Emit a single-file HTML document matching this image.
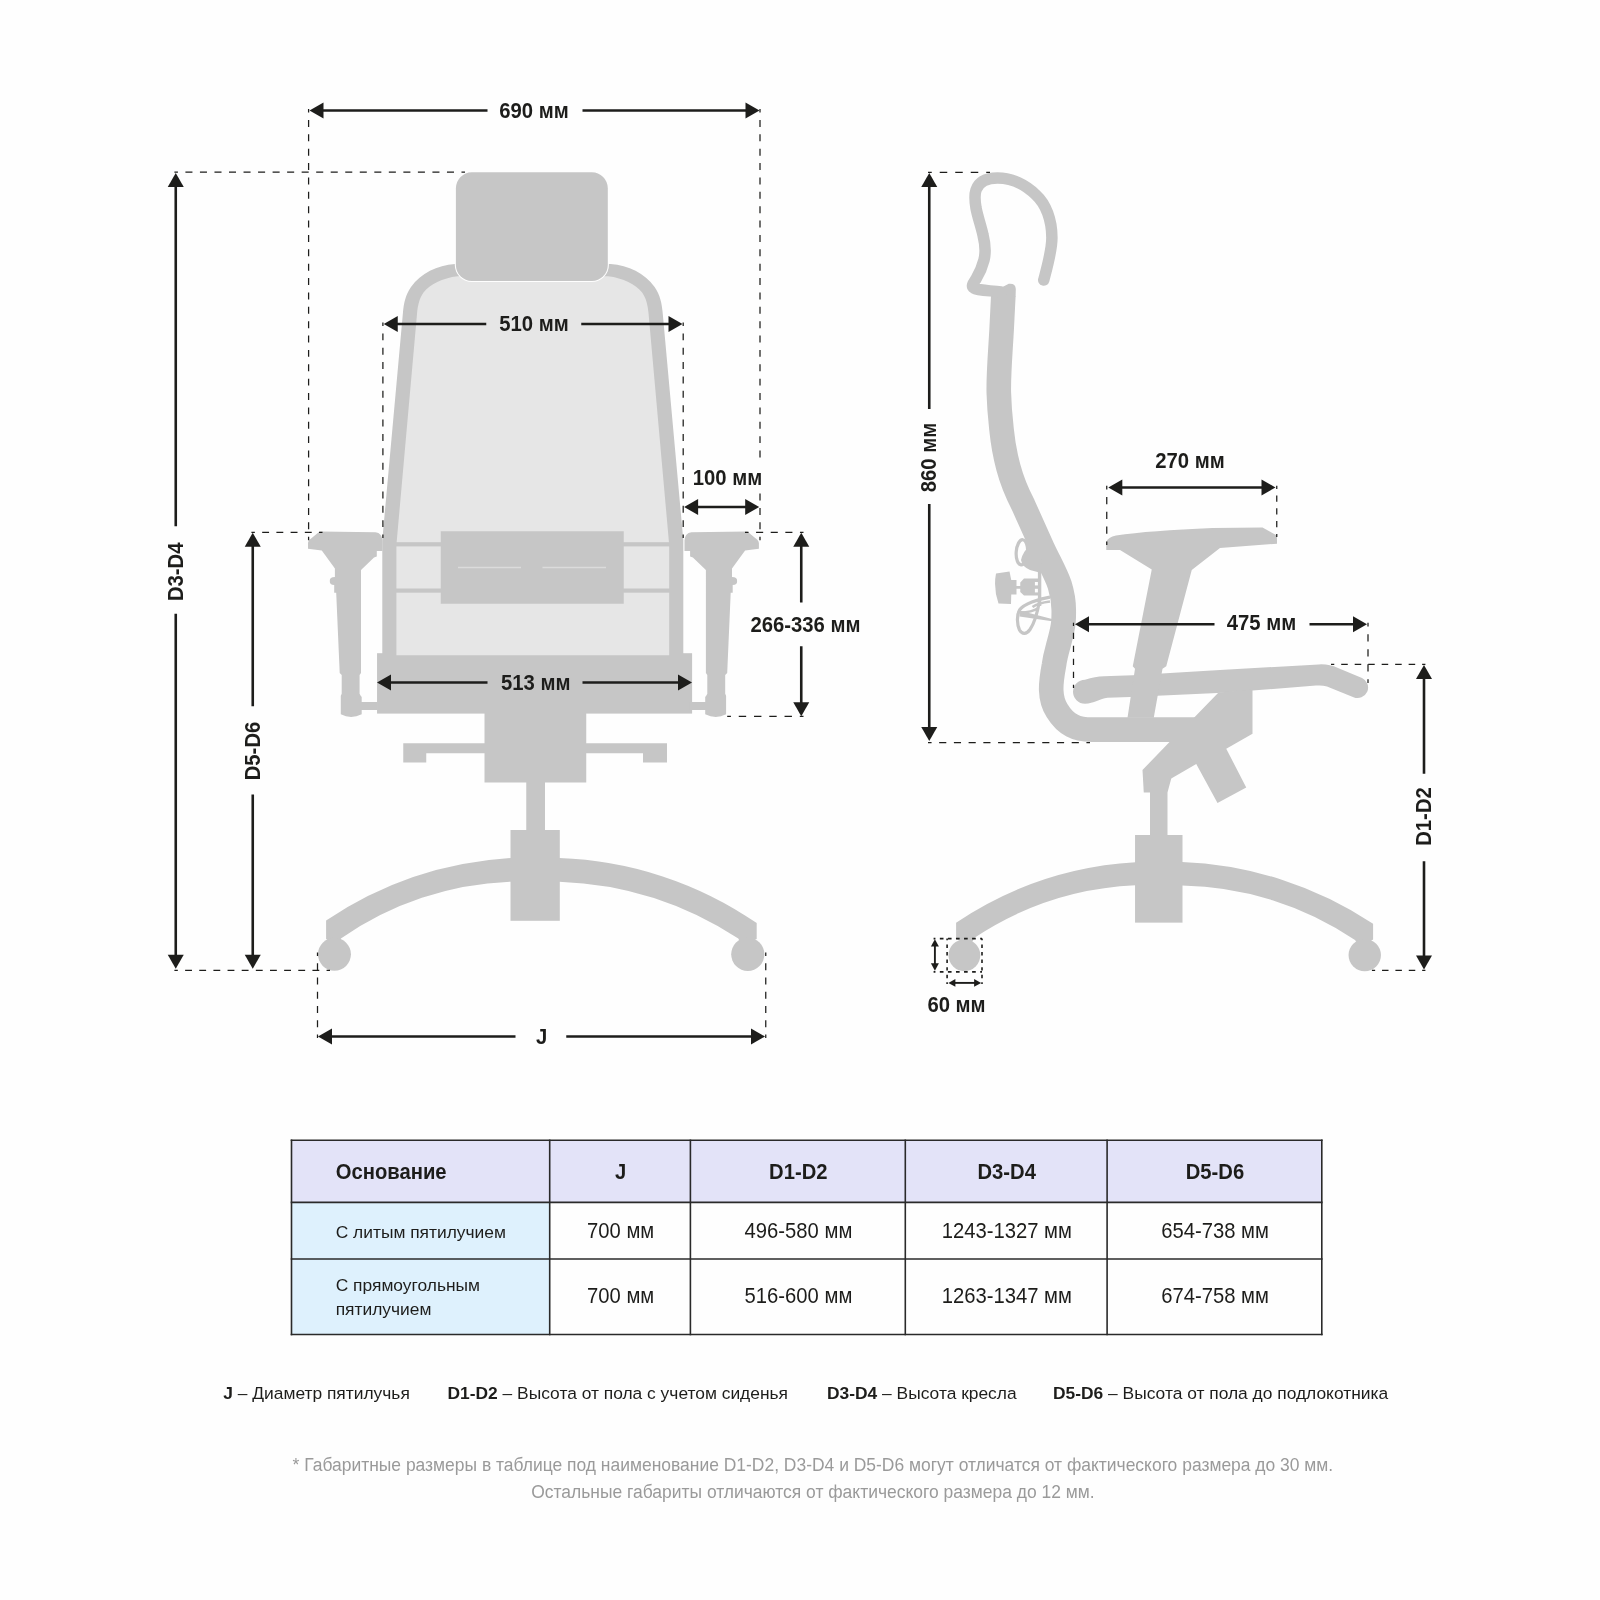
<!DOCTYPE html>
<html lang="ru"><head><meta charset="utf-8"><title>Габаритные размеры</title>
<style>
html,body{margin:0;padding:0;background:#fefefe;}
body{width:1600px;height:1600px;overflow:hidden;font-family:"Liberation Sans",sans-serif;}
svg{display:block;will-change:transform;}
svg text{font-family:"Liberation Sans",sans-serif;}
</style></head><body>
<svg width="1600" height="1600" viewBox="0 0 1600 1600">
<rect width="1600" height="1600" fill="#fefefe"/>
<g id="front">
<rect x="377.05" y="653.2" width="315.05" height="60.4" fill="#c6c6c6"/>
<path d="M455 264 C437 265.5 421 273 411 287 C405.5 295 403.8 303 403 312 L382.3 540 L382.3 654 L683.3 654 L683.3 540 L662.6 312 C661.8 303 660.1 295 654.6 287 C644.6 273 628.6 265.5 610.6 264 Z" fill="#c6c6c6"/>
<path d="M457.5 276.25 C442.5 278 430 284.5 423.5 292.5 C419.5 298 417.8 305 417 314 L396.4 545 L396.4 655.2 L669.2 655.2 L669.2 545 L648.6 314 C647.8 305 646.1 298 642.1 292.5 C635.6 284.5 623.1 278 608.1 276.25 Z" fill="#e6e6e6"/>
<rect x="390" y="542.2" width="286" height="4.2" fill="#c6c6c6"/>
<rect x="390" y="588.5" width="286" height="4.2" fill="#c6c6c6"/>
<rect x="440.75" y="531.25" width="183" height="72.5" fill="#c6c6c6"/>
<line x1="458" y1="567.5" x2="521" y2="567.5" stroke="#dbdbdb" stroke-width="1.6"/>
<line x1="542.5" y1="567.5" x2="606" y2="567.5" stroke="#dbdbdb" stroke-width="1.6"/>
<rect x="454.8" y="171.2" width="154.1" height="110.9" rx="17.1" ry="17.1" fill="#fefefe"/>
<rect x="455.9" y="172.3" width="151.9" height="108.7" rx="16" ry="16" fill="#c6c6c6"/>
<rect x="484.5" y="713" width="101.75" height="69.5" fill="#c6c6c6"/>
<path d="M403.25 743.25 H667 V762.5 H643 V753.25 H426.25 V762.5 H403.25 Z" fill="#c6c6c6"/>
<rect x="526.25" y="782" width="18.75" height="49" fill="#c6c6c6"/>
<rect x="510.5" y="830" width="49.3" height="90.8" fill="#c6c6c6"/>
<path d="M326.1 939 L326.1 920.5 A372.3 372.3 0 0 1 511 858 L514 858 L514 881.7 L511 881.7 A316.9 316.9 0 0 0 340.9 938.5 L338 946 Z" fill="#c6c6c6"/>
<path d="M756.7 939 L756.7 923.1 A369.7 369.7 0 0 0 559.3 858 L556 858 L556 881.7 L559.3 881.7 A350 350 0 0 1 738.3 938.5 L742 946 Z" fill="#c6c6c6"/>
<circle cx="334.45" cy="954.3" r="16.5" fill="#c6c6c6"/>
<circle cx="747.8" cy="954.3" r="16.6" fill="#c6c6c6"/>
<path d="M319.6 531.6 L375.5 532.3 Q382 533 382.4 540.5 L382.4 551 L376.8 551 L376.8 556.5 L374 557.6 L361 570 L361 673 L359.6 675.1 L359.6 693.7 L360.7 695.8 L361.7 697 L361.7 702 L377.5 702 L377.5 709.9 L361.7 709.9 L361.7 714.3 Q351 719.5 340.8 714.3 L340.8 695.8 L341.7 693.7 L341.7 675.1 L339.7 673 L336.2 592.7 L334.2 592.7 L334.2 585 Q329.5 585 329.8 581 Q329.5 577 334.9 577 L334.9 568.6 L321.8 550.5 L308 548.7 L308 543 Q308.2 541 309.6 539.8 Z" fill="#c6c6c6"/>
<path d="M319.6 531.6 L375.5 532.3 Q382 533 382.4 540.5 L382.4 551 L376.8 551 L376.8 556.5 L374 557.6 L361 570 L361 673 L359.6 675.1 L359.6 693.7 L360.7 695.8 L361.7 697 L361.7 702 L377.5 702 L377.5 709.9 L361.7 709.9 L361.7 714.3 Q351 719.5 340.8 714.3 L340.8 695.8 L341.7 693.7 L341.7 675.1 L339.7 673 L336.2 592.7 L334.2 592.7 L334.2 585 Q329.5 585 329.8 581 Q329.5 577 334.9 577 L334.9 568.6 L321.8 550.5 L308 548.7 L308 543 Q308.2 541 309.6 539.8 Z" fill="#c6c6c6" transform="translate(1066.9 0) scale(-1 1)"/>
</g>
<g id="dims-front">
<line x1="322.5" y1="110.5" x2="487.5" y2="110.5" stroke="#1d1d1b" stroke-width="2.6"/>
<line x1="582.5" y1="110.5" x2="746.5" y2="110.5" stroke="#1d1d1b" stroke-width="2.6"/>
<polygon points="309.5,110.5 323.5,102.5 323.5,118.5" fill="#1d1d1b"/>
<polygon points="759.5,110.5 745.5,102.5 745.5,118.5" fill="#1d1d1b"/>
<text transform="translate(534 117.8) scale(1 1.055)" font-size="20.3" font-weight="bold" text-anchor="middle" fill="#1d1d1b">690 мм</text>
<line x1="308.6" y1="109.1" x2="308.6" y2="540.2" stroke="#1d1d1b" stroke-width="1.25" stroke-dasharray="6.961 7.409" stroke-dashoffset="3.481"/>
<line x1="760" y1="109.1" x2="760" y2="540.2" stroke="#1d1d1b" stroke-width="1.25" stroke-dasharray="6.961 7.409" stroke-dashoffset="3.481"/>
<line x1="396.75" y1="324" x2="486.25" y2="324" stroke="#1d1d1b" stroke-width="2.6"/>
<line x1="581.25" y1="324" x2="669.5" y2="324" stroke="#1d1d1b" stroke-width="2.6"/>
<polygon points="383.75,324 397.75,316 397.75,332" fill="#1d1d1b"/>
<polygon points="682.5,324 668.5,316 668.5,332" fill="#1d1d1b"/>
<text transform="translate(534 331.2) scale(1 1.055)" font-size="20.3" font-weight="bold" text-anchor="middle" fill="#1d1d1b">510 мм</text>
<line x1="382.9" y1="322.5" x2="382.9" y2="538" stroke="#1d1d1b" stroke-width="1.25" stroke-dasharray="6.960 7.407" stroke-dashoffset="3.480"/>
<line x1="683.2" y1="322.5" x2="683.2" y2="538" stroke="#1d1d1b" stroke-width="1.25" stroke-dasharray="6.960 7.407" stroke-dashoffset="3.480"/>
<line x1="697.1" y1="507" x2="746.2" y2="507" stroke="#1d1d1b" stroke-width="2.6"/>
<polygon points="684.1,507 698.1,499 698.1,515" fill="#1d1d1b"/>
<polygon points="759.2,507 745.2,499 745.2,515" fill="#1d1d1b"/>
<rect x="690" y="458.5" width="85" height="34.5" fill="#fefefe"/>
<text transform="translate(727.4 484.6) scale(1 1.055)" font-size="20.3" font-weight="bold" text-anchor="middle" fill="#1d1d1b">100 мм</text>
<line x1="801.25" y1="545.8" x2="801.25" y2="602.5" stroke="#1d1d1b" stroke-width="2.6"/>
<line x1="801.25" y1="646.25" x2="801.25" y2="703.25" stroke="#1d1d1b" stroke-width="2.6"/>
<polygon points="801.25,532.8 793.25,546.8 809.25,546.8" fill="#1d1d1b"/>
<polygon points="801.25,716.25 793.25,702.25 809.25,702.25" fill="#1d1d1b"/>
<text transform="translate(805.5 632) scale(1 1.055)" font-size="20.3" font-weight="bold" text-anchor="middle" fill="#1d1d1b">266-336 мм</text>
<line x1="803.5" y1="532.3" x2="745" y2="532.3" stroke="#1d1d1b" stroke-width="1.25" stroke-dasharray="7.085 7.540" stroke-dashoffset="3.542"/>
<line x1="803.5" y1="716.4" x2="727.2" y2="716.4" stroke="#1d1d1b" stroke-width="1.25" stroke-dasharray="7.392 7.868" stroke-dashoffset="3.696"/>
<line x1="390" y1="682.5" x2="487.5" y2="682.5" stroke="#1d1d1b" stroke-width="2.6"/>
<line x1="582.5" y1="682.5" x2="679" y2="682.5" stroke="#1d1d1b" stroke-width="2.6"/>
<polygon points="377,682.5 391,674.5 391,690.5" fill="#1d1d1b"/>
<polygon points="692,682.5 678,674.5 678,690.5" fill="#1d1d1b"/>
<text transform="translate(535.75 690) scale(1 1.055)" font-size="20.3" font-weight="bold" text-anchor="middle" fill="#1d1d1b">513 мм</text>
<line x1="175.75" y1="186" x2="175.75" y2="526.25" stroke="#1d1d1b" stroke-width="2.6"/>
<line x1="175.75" y1="613.75" x2="175.75" y2="955.75" stroke="#1d1d1b" stroke-width="2.6"/>
<polygon points="175.75,173 167.75,187 183.75,187" fill="#1d1d1b"/>
<polygon points="175.75,968.75 167.75,954.75 183.75,954.75" fill="#1d1d1b"/>
<text transform="translate(183 571.8) rotate(-90) scale(1 1.055)" font-size="20.3" font-weight="bold" text-anchor="middle" fill="#1d1d1b">D3-D4</text>
<line x1="174.4" y1="172.1" x2="465" y2="172.1" stroke="#1d1d1b" stroke-width="1.25" stroke-dasharray="7.039 7.491" stroke-dashoffset="3.519"/>
<line x1="174.4" y1="970.4" x2="330" y2="970.4" stroke="#1d1d1b" stroke-width="1.25" stroke-dasharray="6.852 7.293" stroke-dashoffset="3.426"/>
<line x1="252.75" y1="545.8" x2="252.75" y2="706.25" stroke="#1d1d1b" stroke-width="2.6"/>
<line x1="252.75" y1="794.5" x2="252.75" y2="955.75" stroke="#1d1d1b" stroke-width="2.6"/>
<polygon points="252.75,532.8 244.75,546.8 260.75,546.8" fill="#1d1d1b"/>
<polygon points="252.75,968.75 244.75,954.75 260.75,954.75" fill="#1d1d1b"/>
<text transform="translate(260 751) rotate(-90) scale(1 1.055)" font-size="20.3" font-weight="bold" text-anchor="middle" fill="#1d1d1b">D5-D6</text>
<line x1="251.4" y1="532.3" x2="322.5" y2="532.3" stroke="#1d1d1b" stroke-width="1.25" stroke-dasharray="6.889 7.331" stroke-dashoffset="3.444"/>
<line x1="331" y1="1036.5" x2="515.5" y2="1036.5" stroke="#1d1d1b" stroke-width="2.6"/>
<line x1="566.25" y1="1036.5" x2="752" y2="1036.5" stroke="#1d1d1b" stroke-width="2.6"/>
<polygon points="318,1036.5 332,1028.5 332,1044.5" fill="#1d1d1b"/>
<polygon points="765,1036.5 751,1028.5 751,1044.5" fill="#1d1d1b"/>
<text transform="translate(541.6 1043.5) scale(1 1.055)" font-size="20.3" font-weight="bold" text-anchor="middle" fill="#1d1d1b">J</text>
<line x1="317.5" y1="1038" x2="317.5" y2="952.5" stroke="#1d1d1b" stroke-width="1.25" stroke-dasharray="6.903 7.347" stroke-dashoffset="3.452"/>
<line x1="765.75" y1="1038" x2="765.75" y2="952.5" stroke="#1d1d1b" stroke-width="1.25" stroke-dasharray="6.903 7.347" stroke-dashoffset="3.452"/>
</g>
<g id="side">
<path d="M1003.3 296 L1001.6 330 C1000.2 355 998.4 375 998.8 392.5 C999.3 410 1000.5 420 1001.6 430 C1003 444 1005 455 1008.4 467.5 C1012 481 1016.5 492 1023.2 505 L1042.3 547.5 C1049 562 1056 574 1059.7 585 C1062.5 594 1063.7 602 1063.75 610 C1063.8 614 1063.8 618 1063.4 622.5 C1062.5 631 1060 639 1057.8 647.5 C1056 654 1054.8 659 1054 665 C1052.5 673 1051 681 1051.2 690 C1051.5 699 1053.5 705 1057 710.5 C1061 717 1066 722.5 1072 725.5 C1078 728.8 1084 729.6 1092 729.6 L1200 729.6" fill="none" stroke="#c6c6c6" stroke-width="24.6" stroke-linejoin="round"/>
<path d="M991.2 297 L992.3 289 L1002.5 287 L1008.75 283.75 Q1015.6 283 1015.8 289 L1015.6 297 Z" fill="#c6c6c6"/>
<path d="M1043.75 280 C1048 264 1052 250 1051.9 237.5 C1051.8 220 1046 204 1036 195 C1026 185 1012 178 997.5 178 C988 178 979 181 976 190 C974 196 975 202 976 208 C978 218 981 226 983 235 C985.5 245 986 252 984 260 C982 268 979 274 976 279 C973 283.5 971 286 974 288 C978 290.5 990 290.5 1001 292" fill="none" stroke="#c6c6c6" stroke-width="11.5" stroke-linecap="round" stroke-linejoin="round"/>
<path d="M1085 679.75 C1092 677.5 1098 676.5 1104 676.2 L1132.5 675.25 L1220 670 L1318.75 664.4 Q1329 663.8 1338 668 L1362 678 A10.5 10.5 0 0 1 1353.5 697.2 L1327 686.5 Q1322 685 1316 685.6 L1252.5 690.6 L1217.5 693 L1130 697 L1107.5 697.75 C1100 698.5 1094 703.5 1085 703.75 A12 12 0 0 1 1085 679.75 Z" fill="#c6c6c6"/>
<path d="M1116 535.5 Q1150 530.5 1212.5 528 L1262.5 527.5 L1277 535.5 L1277 543.75 L1220 548 L1191.75 570 L1166.25 666.25 L1162.5 668.75 L1153.75 717.75 L1127.5 717.75 L1135 668.75 L1132.75 666.25 L1151.75 569.5 L1120 550 L1106.25 550 L1106.25 542 Q1108 537 1116 535.5 Z" fill="#c6c6c6"/>
<path d="M1193.75 717.9 L1218.5 692.5 L1252.5 689.5 L1252.5 733.75 L1226.25 748.75 L1246.25 787.5 L1217.5 803 L1196.25 764 L1171.25 778.5 L1167.5 792.5 L1167.5 836 L1150 836 L1150 792.5 L1143.75 792.5 L1142.5 770 L1170 741.5 L1170 717.9 Z" fill="#c6c6c6"/>
<rect x="1135.05" y="835" width="47.45" height="87.65" fill="#c6c6c6"/>
<path d="M956.1 939 L956.1 922.65 A359.9 359.9 0 0 1 1135.5 862.3 L1139 862.3 L1139 885.3 L1135.5 885.3 A317.5 317.5 0 0 0 974.5 937.7 L970 946 Z" fill="#c6c6c6"/>
<path d="M1373.1 939.4 L1373.1 923.75 A370.8 370.8 0 0 0 1182 862 L1179 862 L1179 885.5 L1182 885.5 A318 318 0 0 1 1355 940 L1360 947 Z" fill="#c6c6c6"/>
<circle cx="964.4" cy="955.3" r="15.9" fill="#c6c6c6"/>
<circle cx="1364.75" cy="955.1" r="16.2" fill="#c6c6c6"/>
<path d="M996 573.5 L1009.5 571.5 L1011.25 580 L1016.5 580 L1016.5 586 L1020.25 586 L1020.25 582.5 L1024 578.6 L1038 578.6 L1038 595.5 L1024 595.5 L1020.25 592 L1020.25 588.75 L1016.5 588.75 L1016.5 594.4 L1011.25 594.4 L1011 604 L998.5 603.5 Q993.2 588 996 573.5 Z" fill="#c6c6c6"/>
<rect x="1034.9" y="582" width="3.2" height="3.4" fill="#fefefe"/><rect x="1034.9" y="588.8" width="3.2" height="3.6" fill="#fefefe"/>
<rect x="1037.9" y="566" width="3.4" height="40" fill="#c6c6c6"/>
<ellipse cx="1021.9" cy="552.3" rx="5.7" ry="12.6" fill="none" stroke="#c6c6c6" stroke-width="3.2" transform="rotate(4 1021.9 552.3)"/>
<path d="M1030 545.5 Q1022.5 552 1021 560 Q1022 566.5 1030 570 L1043 573.5 L1041 558 Z" fill="#c6c6c6"/>
<path d="M1050 597.2 C1038 599 1024 604 1019.5 610 C1016.5 615 1017 625 1019.5 630 C1022 634.5 1026.5 634.5 1030 629.5 C1034.5 623 1037.5 612 1039.5 601" fill="none" stroke="#c6c6c6" stroke-width="3.2"/>
<path d="M1050 601.5 C1042 602.5 1036 604.5 1032.5 607" fill="none" stroke="#c6c6c6" stroke-width="2.6"/>
<path d="M1019.5 610.5 L1052 619 L1052 621.2 L1019.5 616.5 Z" fill="#c6c6c6"/>
<path d="M1020 612.5 C1027 612.5 1034 611 1038.5 608" fill="none" stroke="#c6c6c6" stroke-width="2.6"/>
</g>
<g id="dims-side">
<line x1="929.25" y1="186" x2="929.25" y2="409" stroke="#1d1d1b" stroke-width="2.6"/>
<line x1="929.25" y1="504" x2="929.25" y2="728" stroke="#1d1d1b" stroke-width="2.6"/>
<polygon points="929.25,173 921.25,187 937.25,187" fill="#1d1d1b"/>
<polygon points="929.25,741 921.25,727 937.25,727" fill="#1d1d1b"/>
<text transform="translate(936.4 457.5) rotate(-90) scale(1 1.055)" font-size="20.3" font-weight="bold" text-anchor="middle" fill="#1d1d1b">860 мм</text>
<line x1="928" y1="172.25" x2="990" y2="172.25" stroke="#1d1d1b" stroke-width="1.25" stroke-dasharray="7.509 7.991" stroke-dashoffset="3.754"/>
<line x1="928" y1="742.5" x2="1090" y2="742.5" stroke="#1d1d1b" stroke-width="1.25" stroke-dasharray="7.134 7.593" stroke-dashoffset="3.567"/>
<line x1="1121.3" y1="487.45" x2="1262.5" y2="487.45" stroke="#1d1d1b" stroke-width="2.6"/>
<polygon points="1108.3,487.45 1122.3,479.45 1122.3,495.45" fill="#1d1d1b"/>
<polygon points="1275.5,487.45 1261.5,479.45 1261.5,495.45" fill="#1d1d1b"/>
<text transform="translate(1190 467.5) scale(1 1.055)" font-size="20.3" font-weight="bold" text-anchor="middle" fill="#1d1d1b">270 мм</text>
<line x1="1106.75" y1="485.8" x2="1106.75" y2="545" stroke="#1d1d1b" stroke-width="1.25" stroke-dasharray="7.170 7.630" stroke-dashoffset="3.585"/>
<line x1="1276.75" y1="485.8" x2="1276.75" y2="537" stroke="#1d1d1b" stroke-width="1.25" stroke-dasharray="6.201 6.599" stroke-dashoffset="3.100"/>
<line x1="1088" y1="624.25" x2="1214.5" y2="624.25" stroke="#1d1d1b" stroke-width="2.6"/>
<line x1="1309.5" y1="624.25" x2="1354" y2="624.25" stroke="#1d1d1b" stroke-width="2.6"/>
<polygon points="1075,624.25 1089,616.25 1089,632.25" fill="#1d1d1b"/>
<polygon points="1367,624.25 1353,616.25 1353,632.25" fill="#1d1d1b"/>
<text transform="translate(1261.4 629.9) scale(1 1.055)" font-size="20.3" font-weight="bold" text-anchor="middle" fill="#1d1d1b">475 мм</text>
<line x1="1073.5" y1="622.8" x2="1073.5" y2="688" stroke="#1d1d1b" stroke-width="1.25" stroke-dasharray="6.317 6.723" stroke-dashoffset="3.158"/>
<line x1="1368" y1="622.8" x2="1368" y2="683" stroke="#1d1d1b" stroke-width="1.25" stroke-dasharray="7.291 7.759" stroke-dashoffset="3.645"/>
<line x1="1424" y1="678" x2="1424" y2="773.75" stroke="#1d1d1b" stroke-width="2.6"/>
<line x1="1424" y1="861.25" x2="1424" y2="956.5" stroke="#1d1d1b" stroke-width="2.6"/>
<polygon points="1424,665 1416,679 1432,679" fill="#1d1d1b"/>
<polygon points="1424,969.5 1416,955.5 1432,955.5" fill="#1d1d1b"/>
<text transform="translate(1431.2 816.5) rotate(-90) scale(1 1.055)" font-size="20.3" font-weight="bold" text-anchor="middle" fill="#1d1d1b">D1-D2</text>
<line x1="1425.4" y1="664.25" x2="1331" y2="664.25" stroke="#1d1d1b" stroke-width="1.25" stroke-dasharray="6.533 6.953" stroke-dashoffset="3.266"/>
<line x1="1425.4" y1="970.4" x2="1371.9" y2="970.4" stroke="#1d1d1b" stroke-width="1.25" stroke-dasharray="6.479 6.896" stroke-dashoffset="3.240"/>
<line x1="933.6" y1="938.6" x2="982" y2="938.6" stroke="#1d1d1b" stroke-width="1.6" stroke-dasharray="3.667 4.400" stroke-dashoffset="1.833"/>
<line x1="933.6" y1="971.9" x2="982" y2="971.9" stroke="#1d1d1b" stroke-width="1.6" stroke-dasharray="3.667 4.400" stroke-dashoffset="1.833"/>
<line x1="947.1" y1="938.6" x2="947.1" y2="984" stroke="#1d1d1b" stroke-width="1.6" stroke-dasharray="3.439 4.127" stroke-dashoffset="1.720"/>
<line x1="982" y1="938.6" x2="982" y2="984" stroke="#1d1d1b" stroke-width="1.6" stroke-dasharray="3.439 4.127" stroke-dashoffset="1.720"/>
<line x1="934.9" y1="945" x2="934.9" y2="965" stroke="#1d1d1b" stroke-width="1.9"/>
<polygon points="934.9,939.2 930.9,946.6 938.9,946.6" fill="#1d1d1b"/><polygon points="934.9,970.7 930.9,963.3 938.9,963.3" fill="#1d1d1b"/>
<line x1="954" y1="982.9" x2="975" y2="982.9" stroke="#1d1d1b" stroke-width="1.9"/>
<polygon points="948.4,982.9 955.4,979 955.4,986.8" fill="#1d1d1b"/><polygon points="981.1,982.9 974.1,979 974.1,986.8" fill="#1d1d1b"/>
<text transform="translate(956.5 1012) scale(1 1.055)" font-size="20.3" font-weight="bold" text-anchor="middle" fill="#1d1d1b">60 мм</text>
</g>
<g id="table">
<rect x="291.5" y="1140.3" width="1030.3" height="62.100000000000136" fill="#e3e3f8"/>
<rect x="291.5" y="1202.4" width="258.20000000000005" height="132.0999999999999" fill="#def1fd"/>
<line x1="291.5" y1="1139.5" x2="291.5" y2="1335.3" stroke="#2a2a2a" stroke-width="1.6"/>
<line x1="549.7" y1="1139.5" x2="549.7" y2="1335.3" stroke="#2a2a2a" stroke-width="1.6"/>
<line x1="690.4" y1="1139.5" x2="690.4" y2="1335.3" stroke="#2a2a2a" stroke-width="1.6"/>
<line x1="905.3" y1="1139.5" x2="905.3" y2="1335.3" stroke="#2a2a2a" stroke-width="1.6"/>
<line x1="1107.1" y1="1139.5" x2="1107.1" y2="1335.3" stroke="#2a2a2a" stroke-width="1.6"/>
<line x1="1321.8" y1="1139.5" x2="1321.8" y2="1335.3" stroke="#2a2a2a" stroke-width="1.6"/>
<line x1="290.7" y1="1140.3" x2="1322.6" y2="1140.3" stroke="#2a2a2a" stroke-width="1.6"/>
<line x1="290.7" y1="1202.4" x2="1322.6" y2="1202.4" stroke="#2a2a2a" stroke-width="1.6"/>
<line x1="290.7" y1="1259.0" x2="1322.6" y2="1259.0" stroke="#2a2a2a" stroke-width="1.6"/>
<line x1="290.7" y1="1334.5" x2="1322.6" y2="1334.5" stroke="#2a2a2a" stroke-width="1.6"/>
<text transform="translate(335.7 1179.2) scale(1 1.055)" font-size="20.25" font-weight="bold" text-anchor="start" fill="#1d1d1b">Основание</text>
<text transform="translate(620.55 1179.2) scale(1 1.055)" font-size="20.25" font-weight="bold" text-anchor="middle" fill="#1d1d1b">J</text>
<text transform="translate(798.3499999999999 1179.2) scale(1 1.055)" font-size="20.25" font-weight="bold" text-anchor="middle" fill="#1d1d1b">D1-D2</text>
<text transform="translate(1006.6999999999999 1179.2) scale(1 1.055)" font-size="20.25" font-weight="bold" text-anchor="middle" fill="#1d1d1b">D3-D4</text>
<text transform="translate(1214.9499999999998 1179.2) scale(1 1.055)" font-size="20.25" font-weight="bold" text-anchor="middle" fill="#1d1d1b">D5-D6</text>
<text transform="translate(335.7 1237.9)" font-size="17.4" font-weight="normal" text-anchor="start" fill="#1d1d1b">С литым пятилучием</text>
<text transform="translate(335.7 1290.6)" font-size="17.4" font-weight="normal" text-anchor="start" fill="#1d1d1b">С прямоугольным</text>
<text transform="translate(335.7 1315)" font-size="17.4" font-weight="normal" text-anchor="start" fill="#1d1d1b">пятилучием</text>
<text transform="translate(620.65 1237.8) scale(1 1.055)" font-size="20.25" font-weight="normal" text-anchor="middle" fill="#1d1d1b">700 мм</text>
<text transform="translate(798.4499999999999 1237.8) scale(1 1.055)" font-size="20.25" font-weight="normal" text-anchor="middle" fill="#1d1d1b">496-580 мм</text>
<text transform="translate(1006.8 1237.8) scale(1 1.055)" font-size="20.25" font-weight="normal" text-anchor="middle" fill="#1d1d1b">1243-1327 мм</text>
<text transform="translate(1215.0499999999997 1237.8) scale(1 1.055)" font-size="20.25" font-weight="normal" text-anchor="middle" fill="#1d1d1b">654-738 мм</text>
<text transform="translate(620.65 1303.1) scale(1 1.055)" font-size="20.25" font-weight="normal" text-anchor="middle" fill="#1d1d1b">700 мм</text>
<text transform="translate(798.4499999999999 1303.1) scale(1 1.055)" font-size="20.25" font-weight="normal" text-anchor="middle" fill="#1d1d1b">516-600 мм</text>
<text transform="translate(1006.8 1303.1) scale(1 1.055)" font-size="20.25" font-weight="normal" text-anchor="middle" fill="#1d1d1b">1263-1347 мм</text>
<text transform="translate(1215.0499999999997 1303.1) scale(1 1.055)" font-size="20.25" font-weight="normal" text-anchor="middle" fill="#1d1d1b">674-758 мм</text>
</g>
<g id="legend">
<text x="223.25" y="1399.4" font-size="17.4" fill="#1d1d1b"><tspan font-weight="bold">J</tspan> – Диаметр пятилучья</text>
<text x="447.5" y="1399.4" font-size="17.4" fill="#1d1d1b"><tspan font-weight="bold">D1-D2</tspan> – Высота от пола с учетом сиденья</text>
<text x="827" y="1399.4" font-size="17.4" fill="#1d1d1b"><tspan font-weight="bold">D3-D4</tspan> – Высота кресла</text>
<text x="1053" y="1399.4" font-size="17.4" fill="#1d1d1b"><tspan font-weight="bold">D5-D6</tspan> – Высота от пола до подлокотника</text>
<text transform="translate(812.9 1470.5)" font-size="17.47" font-weight="normal" text-anchor="middle" fill="#9a9a9a">* Габаритные размеры в таблице под наименование D1-D2, D3-D4 и D5-D6 могут отличатся от фактического размера до 30 мм.</text>
<text transform="translate(812.9 1497.9)" font-size="17.47" font-weight="normal" text-anchor="middle" fill="#9a9a9a">Остальные габариты отличаются от фактического размера до 12 мм.</text>
</g>
</svg></body></html>
